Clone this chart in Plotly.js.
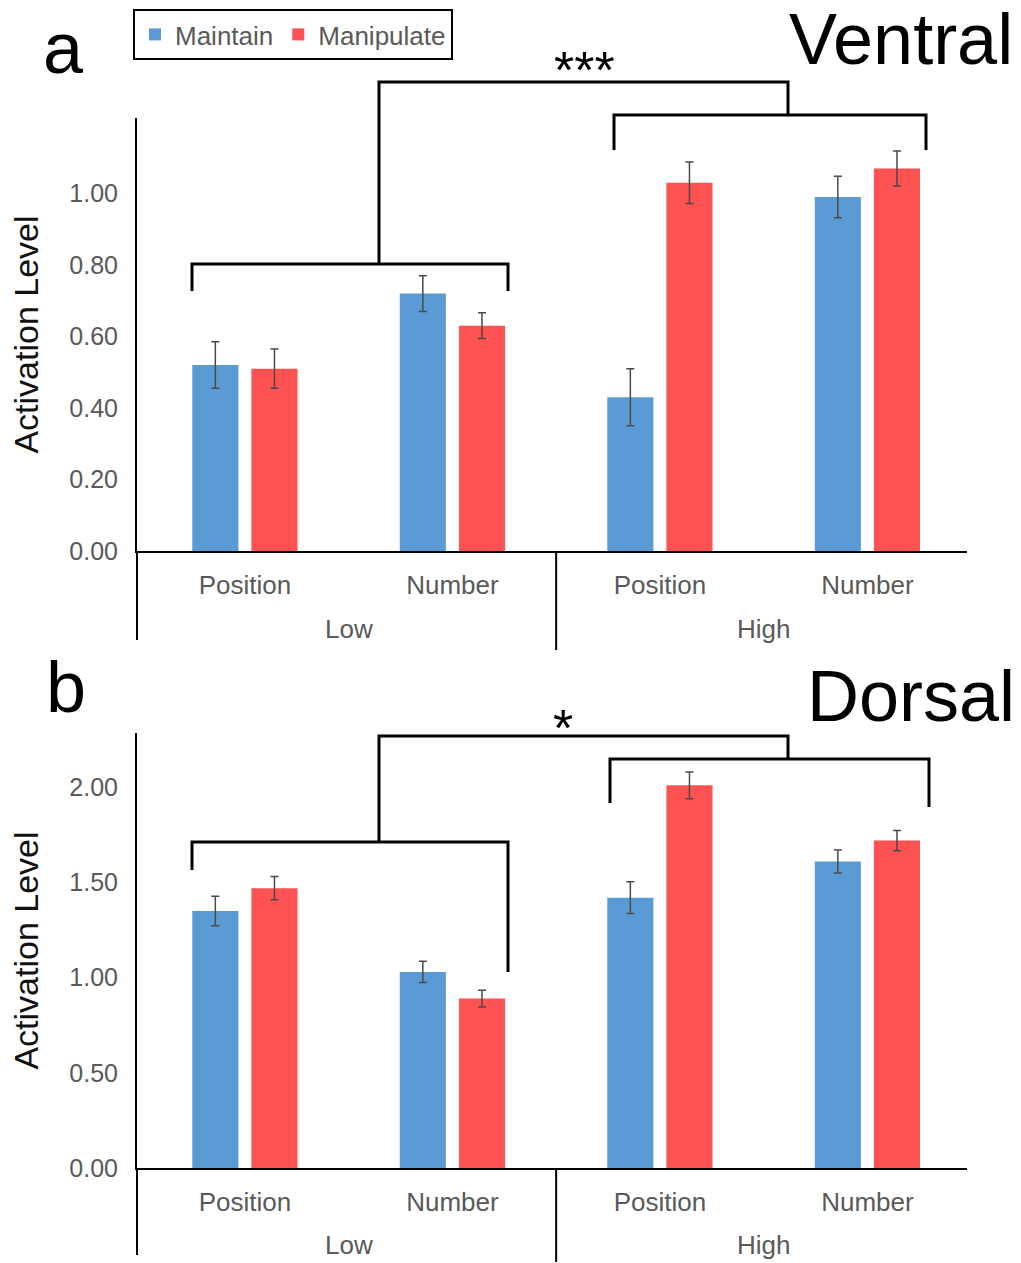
<!DOCTYPE html>
<html>
<head>
<meta charset="utf-8">
<script src="https://cdn.plot.ly/plotly-3.0.1.min.js"></script>
<style>html,body{margin:0;padding:0;background:#fff;}#chart{width:1021px;height:1263px;}</style>
</head>
<body>
<div id="chart"></div>
<script>
// ---- data ----
const groups = ['Low', 'Low', 'High', 'High'];
const conditions = ['Position', 'Number', 'Position', 'Number'];
const seriesNames = ['Maintain', 'Manipulate'];

const ventralMaintain = [0.52, 0.72, 0.43, 0.99];
const ventralMaintainErr = [0.065, 0.050, 0.080, 0.058];
const ventralManipulate = [0.51, 0.63, 1.03, 1.07];
const ventralManipulateErr = [0.055, 0.036, 0.058, 0.049];

const dorsalMaintain = [1.35, 1.03, 1.42, 1.61];
const dorsalMaintainErr = [0.078, 0.056, 0.083, 0.061];
const dorsalManipulate = [1.47, 0.89, 2.01, 1.72];
const dorsalManipulateErr = [0.061, 0.044, 0.070, 0.053];

const ventralTicks = [0, 0.2, 0.4, 0.6, 0.8, 1.0];
const dorsalTicks = [0, 0.5, 1.0, 1.5, 2.0];

// ---- styles ----
const W = 1021, H = 1263;
const FONT = 'Liberation Sans, Arial, sans-serif';
const GRAY = '#595959';
const BLUE = '#5B9BD5';
const RED = '#FF5252';
const px = p => p / W;
const py = p => 1 - p / H;

// category positions on the x axis (one slot per condition)
const xIdx = conditions.map((_, i) => i);
const groupNames = groups.filter((g, i) => groups.indexOf(g) === i);
const groupCenters = groupNames.map(g => {
  const ids = xIdx.filter(i => groups[i] === g);
  return ids.reduce((a, b) => a + b, 0) / ids.length;
});
const groupBoundaries = xIdx.filter(i => i > 0 && groups[i] !== groups[i - 1]).map(i => i - 0.5);

function bar(name, vals, errs, color, xa, ya, show) {
  return {
    type: 'bar', name: name,
    x: xIdx, y: vals,
    xaxis: xa, yaxis: ya,
    marker: {color: color},
    error_y: {type: 'data', array: errs, visible: true, color: '#4a4a4a', thickness: 1.5, width: 4},
    showlegend: show
  };
}

const data = [
  bar(seriesNames[0], ventralMaintain, ventralMaintainErr, BLUE, 'x', 'y', true),
  bar(seriesNames[1], ventralManipulate, ventralManipulateErr, RED, 'x', 'y', true),
  bar(seriesNames[0], dorsalMaintain, dorsalMaintainErr, BLUE, 'x2', 'y2', false),
  bar(seriesNames[1], dorsalManipulate, dorsalManipulateErr, RED, 'x2', 'y2', false)
];

function xAxis(domain, anchor) {
  return {
    type: 'linear', domain: domain, anchor: anchor,
    range: [-0.52, 3.48],
    tickvals: xIdx, ticktext: conditions,
    showline: true, linecolor: '#000', linewidth: 2,
    showgrid: false, zeroline: false, ticks: '',
    ticklabelstandoff: 10,
    tickfont: {family: FONT, size: 26, color: GRAY}
  };
}
function yAxis(domain, anchor, range, ticks) {
  return {
    domain: domain, anchor: anchor, range: range,
    tickvals: ticks, tickformat: '.2f',
    showline: true, linecolor: '#000', linewidth: 2,
    showgrid: false, zeroline: false, ticks: '',
    ticklabelstandoff: 12,
    tickfont: {family: FONT, size: 25, color: GRAY},
    title: {text: 'Activation Level', standoff: 20, font: {family: FONT, size: 34, color: '#111'}}
  };
}

const xDom = [137 / W, 967 / W];
const panels = [
  {xa: 'x', axisY: 551, labelY: 629, leftBottom: 640, midBottom: 650},
  {xa: 'x2', axisY: 1168, labelY: 1245, leftBottom: 1255, midBottom: 1262}
];

const shapes = [];
const annotations = [];
panels.forEach(p => {
  // left y-axis line continued under the labels
  shapes.push({type: 'line', xref: 'paper', yref: 'paper', x0: px(137), x1: px(137), y0: py(p.axisY), y1: py(p.leftBottom), line: {color: '#000', width: 2}});
  groupBoundaries.forEach(b => {
    shapes.push({type: 'line', xref: p.xa, yref: 'paper', x0: b, x1: b, y0: py(p.axisY), y1: py(p.midBottom), line: {color: '#000', width: 2}});
  });
  groupNames.forEach((g, k) => {
    annotations.push({text: g, xref: p.xa, yref: 'paper', x: groupCenters[k], y: py(p.labelY), xanchor: 'center', yanchor: 'middle', showarrow: false, font: {family: FONT, size: 26, color: GRAY}});
  });
});

// significance brackets (pixel positions of the drawing)
const bracket = (pts) => ({
  type: 'path', xref: 'paper', yref: 'paper',
  path: pts.map((q, i) => (i ? 'L ' : 'M ') + px(q[0]) + ',' + py(q[1])).join(' '),
  line: {color: '#000', width: 3}
});
shapes.push(
  bracket([[192, 291], [192, 264], [508, 264], [508, 291]]),
  bracket([[614, 150], [614, 115], [926, 115], [926, 150]]),
  bracket([[379, 264], [379, 82], [788, 82], [788, 115]]),
  bracket([[192, 870], [192, 842], [508, 842], [508, 972]]),
  bracket([[610, 803], [610, 759], [929, 759], [929, 807]]),
  bracket([[379, 842], [379, 736], [788, 736], [788, 759]])
);

annotations.push(
  {text: 'a', xref: 'paper', yref: 'paper', x: px(63), y: py(48), xanchor: 'center', yanchor: 'middle', showarrow: false, font: {family: FONT, size: 72, color: '#000'}},
  {text: 'b', xref: 'paper', yref: 'paper', x: px(66), y: py(687), xanchor: 'center', yanchor: 'middle', showarrow: false, font: {family: FONT, size: 72, color: '#000'}},
  {text: 'Ventral', xref: 'paper', yref: 'paper', x: px(1015), y: py(39), xanchor: 'right', yanchor: 'middle', showarrow: false, font: {family: FONT, size: 72, color: '#000'}},
  {text: 'Dorsal', xref: 'paper', yref: 'paper', x: px(1017), y: py(696), xanchor: 'right', yanchor: 'middle', showarrow: false, font: {family: FONT, size: 72, color: '#000'}},
  {text: '***', xref: 'paper', yref: 'paper', x: px(584), y: py(70), xanchor: 'center', yanchor: 'middle', showarrow: false, font: {family: FONT, size: 52, color: '#000'}},
  {text: '*', xref: 'paper', yref: 'paper', x: px(563), y: py(728), xanchor: 'center', yanchor: 'middle', showarrow: false, font: {family: FONT, size: 52, color: '#000'}}
);

const layout = {
  width: W, height: H,
  margin: {l: 0, r: 0, t: 0, b: 0},
  paper_bgcolor: '#fff', plot_bgcolor: '#fff',
  barmode: 'group', bargap: 0.43, bargroupgap: 0.22,
  font: {family: FONT},
  xaxis: xAxis(xDom, 'y'),
  yaxis: yAxis([py(551), py(118)], 'x', [0, 1.211], ventralTicks),
  xaxis2: xAxis(xDom, 'y2'),
  yaxis2: yAxis([py(1168), py(733)], 'x2', [0, 2.285], dorsalTicks),
  showlegend: true,
  legend: {
    orientation: 'h', x: px(133), xanchor: 'left', y: py(9), yanchor: 'top',
    bordercolor: '#000', borderwidth: 2, bgcolor: '#fff',
    font: {family: FONT, size: 26, color: GRAY}, itemwidth: 30,
    traceorder: 'normal'
  },
  shapes: shapes,
  annotations: annotations
};

Plotly.newPlot('chart', data, layout, {displayModeBar: false, staticPlot: true});
</script>
</body>
</html>
